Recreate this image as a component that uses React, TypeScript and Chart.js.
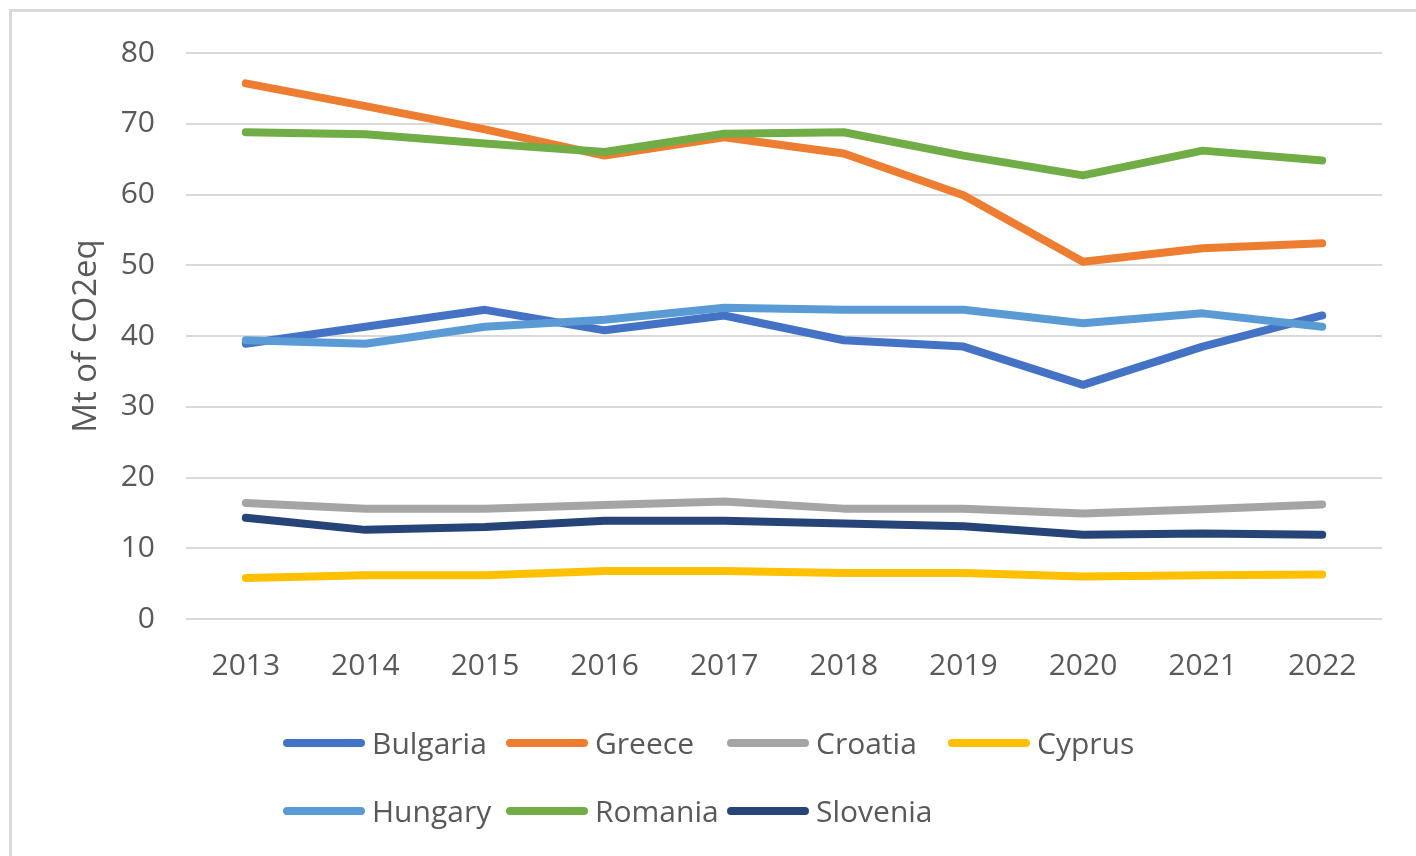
import React, { useEffect, useRef } from "react";
import { Chart, registerables } from "chart.js";

Chart.register(...registerables);

const years = ["2013", "2014", "2015", "2016", "2017", "2018", "2019", "2020", "2021", "2022"];
const bulgaria = [38.9, 41.3, 43.7, 40.8, 42.9, 39.4, 38.5, 33.1, 38.5, 42.9];
const greece = [75.7, 72.5, 69.2, 65.5, 68.1, 65.8, 59.9, 50.5, 52.4, 53.1];
const croatia = [16.4, 15.6, 15.6, 16.1, 16.6, 15.6, 15.6, 14.9, 15.5, 16.2];
const cyprus = [5.8, 6.2, 6.2, 6.8, 6.8, 6.5, 6.5, 6.0, 6.2, 6.3];
const hungary = [39.4, 38.9, 41.3, 42.3, 44.0, 43.7, 43.7, 41.8, 43.2, 41.3];
const romania = [68.8, 68.5, 67.2, 66.0, 68.6, 68.8, 65.5, 62.7, 66.2, 64.8];
const slovenia = [14.3, 12.6, 13.0, 13.9, 13.9, 13.5, 13.1, 11.9, 12.1, 11.9];

const seriesNames = ["Bulgaria", "Greece", "Croatia", "Cyprus", "Hungary", "Romania", "Slovenia"];
const seriesValues = [bulgaria, greece, croatia, cyprus, hungary, romania, slovenia];
const seriesColors = ["#4472C4", "#ED7D31", "#A5A5A5", "#FFC000", "#5B9BD5", "#70AD47", "#264478"];

const yTitle = "Mt of CO2eq";
const FONT = "'Open Sans', 'Liberation Sans', sans-serif";
const TEXT = "#595959";

export default function App() {
  const ref = useRef<HTMLCanvasElement | null>(null);

  useEffect(() => {
    if (!ref.current) return;
    const chart = new Chart(ref.current, {
      type: "line",
      data: {
        labels: years,
        datasets: seriesNames.map((name, i) => ({
          label: name,
          data: seriesValues[i],
          borderColor: seriesColors[i],
          backgroundColor: seriesColors[i],
          borderWidth: 8,
          borderCapStyle: "round" as const,
          borderJoinStyle: "round" as const,
          pointRadius: 0,
          tension: 0,
          fill: false,
          order: seriesNames.length - i,
        })),
      },
      options: {
        responsive: false,
        animation: false,
        layout: { padding: { left: 63, top: 53, right: 34, bottom: 157 } },
        plugins: {
          legend: { display: false },
          tooltip: { enabled: false },
        },
        scales: {
          x: {
            offset: true,
            grid: { display: false, drawTicks: false },
            border: { display: false },
            ticks: {
              color: TEXT,
              font: { family: FONT, size: 30 },
              padding: 29,
              maxRotation: 0,
            },
            afterFit: (s: any) => {
              s.height = 80;
            },
          },
          y: {
            min: 0,
            max: 80,
            grid: { color: "#d9d9d9", lineWidth: 2, drawTicks: false },
            border: { display: false },
            ticks: {
              stepSize: 10,
              color: TEXT,
              font: { family: FONT, size: 30 },
              padding: 31,
            },
            title: {
              display: true,
              text: yTitle,
              color: TEXT,
              font: { family: FONT, size: 33 },
              padding: { top: 4, bottom: 0 },
            },
            afterFit: (s: any) => {
              s.width = 123;
            },
          },
        },
      },
    });
    return () => chart.destroy();
  }, []);

  const colX = [283, 506, 727, 948];
  const rowY = [743, 811];

  return (
    <div style={{ position: "relative", width: 1416, height: 856, overflow: "hidden", background: "#fff" }}>
      <style>{"body{margin:0;overflow:hidden;background:#fff}"}</style>
      <div
        style={{
          position: "absolute",
          left: 9,
          top: 9,
          width: 1500,
          height: 1000,
          border: "3px solid #d9d9d9",
          boxSizing: "border-box",
        }}
      />
      <canvas ref={ref} width={1416} height={856} style={{ position: "absolute", left: 0, top: 0, width: 1416, height: 856 }} />
      {seriesNames.map((name, i) => {
        const col = i % 4;
        const row = Math.floor(i / 4);
        return (
          <div
            key={name}
            style={{
              position: "absolute",
              left: colX[col],
              top: rowY[row] - 22,
              height: 44,
              display: "flex",
              alignItems: "center",
              whiteSpace: "nowrap",
            }}
          >
            <div style={{ width: 82, height: 8, borderRadius: 4, background: seriesColors[i] }} />
            <span
              style={{
                marginLeft: 7,
                fontFamily: FONT,
                fontSize: 30,
                lineHeight: "44px",
                color: TEXT,
              }}
            >
              {name}
            </span>
          </div>
        );
      })}
    </div>
  );
}
